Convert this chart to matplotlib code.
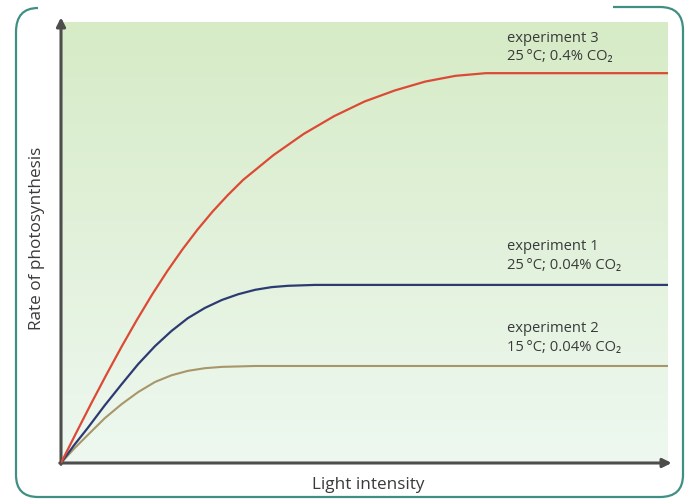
import numpy as np
import matplotlib.pyplot as plt
from matplotlib.path import Path
from matplotlib.patches import PathPatch

plt.rcParams['font.family'] = ['Open Sans', 'DejaVu Sans']

# Light intensity (arbitrary units) and rate of photosynthesis for each run
exp3_x = [0, 2.5, 5, 7.5, 10, 12.5, 15, 17.5, 20, 22.5, 25, 27.5, 30, 35, 40, 45, 50, 55, 60, 65, 70, 100]
exp3_y = [0, 6.8, 13.5, 20.0, 26.3, 32.3, 38.0, 43.3, 48.2, 52.7, 56.8, 60.5, 63.9, 69.5, 74.3,
          78.3, 81.6, 84.1, 86.1, 87.4, 88.0, 88.0]

exp1_x = [0, 2.2, 4.4, 7.2, 10.0, 12.7, 15.5, 18.2, 20.9, 23.7, 26.5, 29.2, 32.0, 34.7, 37.4, 41.8, 100]
exp1_y = [0, 4.1, 7.9, 13.0, 17.8, 22.3, 26.4, 29.8, 32.7, 35.0, 36.8, 38.1, 39.1, 39.7, 40.0, 40.2, 40.2]

exp2_x = [0, 2.2, 4.4, 7.2, 10.0, 12.7, 15.5, 18.2, 20.9, 23.7, 26.5, 32.0, 100]
exp2_y = [0, 3.3, 6.3, 10.1, 13.3, 16.0, 18.3, 19.8, 20.8, 21.4, 21.7, 21.9, 21.9]

labels = ["experiment 3\n25\u2009\u00b0C; 0.4% CO\u2082",
          "experiment 1\n25\u2009\u00b0C; 0.04% CO\u2082",
          "experiment 2\n15\u2009\u00b0C; 0.04% CO\u2082"]
label_y = [93.8, 46.7, 28.2]

fig = plt.figure(figsize=(6.93, 5), dpi=100)
fig.patch.set_facecolor('white')

# rounded page frame drawn in pixel coordinates
frame = fig.add_axes([0, 0, 1, 1])
frame.set_xlim(0, 693)
frame.set_ylim(500, 0)
frame.axis('off')
verts = [(613, 7), (660, 7), (683, 7), (683, 30), (683, 475), (683, 497), (660, 497),
         (38, 497), (16, 497), (16, 475), (16, 32), (16, 8), (38, 8)]
codes = [Path.MOVETO, Path.LINETO, Path.CURVE3, Path.CURVE3, Path.LINETO, Path.CURVE3, Path.CURVE3,
         Path.LINETO, Path.CURVE3, Path.CURVE3, Path.LINETO, Path.CURVE3, Path.CURVE3]
frame.add_patch(PathPatch(Path(verts, codes), fill=False, edgecolor='#3f8f84', lw=1.6))

ax = fig.add_axes([61 / 693, 37 / 500, 607 / 693, 443 / 500])
ax.set_xlim(0, 100)
ax.set_ylim(0, 100)
ax.axis('off')

# pale green background, darker towards the top
top = np.array([214, 235, 198]) / 255
bottom = np.array([238, 248, 240]) / 255
t = np.linspace(0, 1, 256)[:, None]
grad = (bottom * (1 - t) + top * t)[:, None, :]
ax.imshow(grad, extent=[0, 100, 0, 99.5], origin='lower', aspect='auto', zorder=0)

ax.plot(exp2_x, exp2_y, color='#a8966a', lw=1.5, zorder=2, solid_joinstyle='round')
ax.plot(exp1_x, exp1_y, color='#2e3b72', lw=1.6, zorder=3, solid_joinstyle='round')
ax.plot(exp3_x, exp3_y, color='#dc4a36', lw=1.6, zorder=4, solid_joinstyle='round')

for txt, y in zip(labels, label_y):
    ax.text(73.5, y, txt, fontsize=10.6, color='#3a3a3a', va='center', ha='left',
            linespacing=1.35)

# axes with arrow heads
arrow = dict(arrowstyle='-|>', lw=2.2, color='#4d4d4d', mutation_scale=13, shrinkA=0, shrinkB=0)
ax.annotate('', xy=(0, 100.6), xytext=(0, -0.3), arrowprops=arrow, annotation_clip=False)
ax.annotate('', xy=(100.6, 0), xytext=(-0.2, 0), arrowprops=arrow, annotation_clip=False)

ax.text(50.6, -5.0, "Light intensity", fontsize=12.3, color='#3a3a3a', ha='center', va='center')
ax.text(-3.9, 50.8, "Rate of photosynthesis", fontsize=12.3, color='#3a3a3a', ha='center',
        va='center', rotation=90)

fig.savefig('out.png', dpi=100)
